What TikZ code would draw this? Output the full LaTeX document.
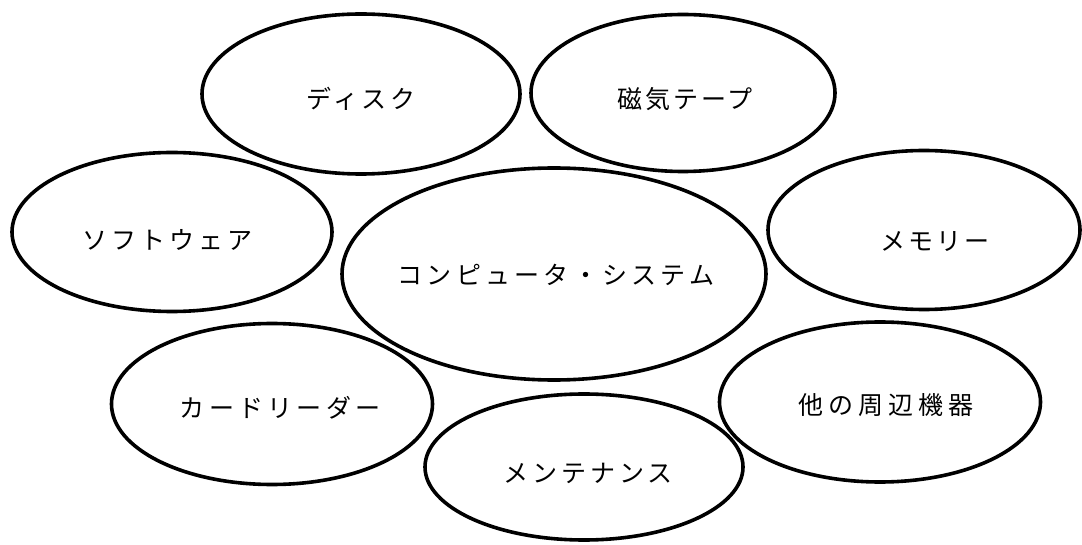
\documentclass[tikz,border=0pt]{standalone}
\usepackage{fontspec}
\newfontfamily\jp{Noto Sans CJK JP}
\usetikzlibrary{shapes.geometric}
\newcommand{\ls}[1]{\addfontfeature{LetterSpace=#1}}
\tikzset{
  oval/.style={draw=black, line width=3.6pt, shape=ellipse, inner sep=0pt},
  lbl/.style={font=\jp\fontsize{25pt}{28pt}\selectfont, inner sep=0pt, text=black}
}
\begin{document}
\begin{tikzpicture}[x=1pt,y=-1pt]
\useasboundingbox (0,0) rectangle (1082,545);
% ellipses
\node[oval, minimum width=318pt, minimum height=160pt] (disk) at (361,94) {};
\node[oval, minimum width=304pt, minimum height=157pt] (tape) at (683,93) {};
\node[oval, minimum width=320pt, minimum height=159pt] (soft) at (172,232) {};
\node[oval, minimum width=424pt, minimum height=212pt] (sys) at (554,274) {};
\node[oval, minimum width=312pt, minimum height=159pt] (mem) at (924,230) {};
\node[oval, minimum width=321pt, minimum height=161pt] (card) at (272,404) {};
\node[oval, minimum width=318pt, minimum height=146pt] (maint) at (584,467) {};
\node[oval, minimum width=321pt, minimum height=160pt] (periph) at (880,402) {};
% labels
\node[lbl] (tdisk) at (361,99) {\ls{14}ディスク};
\node[lbl] (ttape) at (685,99) {\ls{12}磁気テープ};
\node[lbl] (tsoft) at (167,240) {\ls{16}ソフトウェア};
\node[lbl] (tsys) at (556,275) {\ls{17}コンピュータ・システム};
\node[lbl] (tmem) at (935,242) {\ls{12}メモリー};
\node[lbl] (tcard) at (280,408) {\ls{17}カードリーダー};
\node[lbl] (tmaint) at (588,473) {\ls{16}メンテナンス};
\node[lbl] (tperiph) at (886,405) {\ls{20}他の周辺機器};
\end{tikzpicture}
\end{document}
